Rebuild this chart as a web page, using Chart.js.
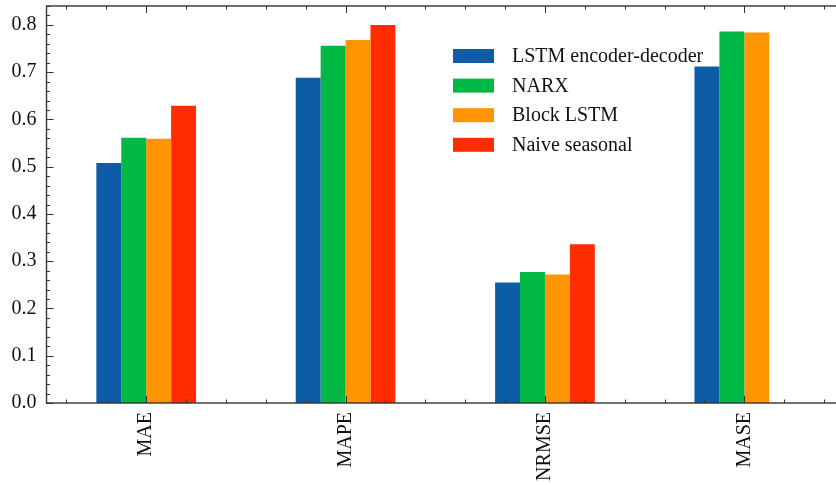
<!DOCTYPE html>
<html>
<head>
<meta charset="utf-8">
<script src="https://cdn.jsdelivr.net/npm/chart.js@4.4.0/dist/chart.umd.min.js"></script>
<style>
  html, body { margin: 0; padding: 0; overflow: hidden; background: #fff; }
</style>
</head>
<body>
<canvas id="myChart" width="850" height="485"></canvas>
<script>
// categories and series
const metrics = ["MAE", "MAPE", "NRMSE", "MASE"];
const seriesNames = ["LSTM encoder-decoder", "NARX", "Block LSTM", "Naive seasonal"];
const lstmEncDec = [0.508, 0.688, 0.255, 0.712];
const narx = [0.561, 0.756, 0.277, 0.786];
const blockLstm = [0.559, 0.768, 0.272, 0.784];
const naiveSeasonal = [0.629, 0.800, 0.336, null];
const yTicks = [0.0, 0.1, 0.2, 0.3, 0.4, 0.5, 0.6, 0.7, 0.8];
const yMax = 0.84;

const colors = ["#0C5DA5", "#00B945", "#FF9500", "#FF2C00"];
const serif = "'Liberation Serif', 'DejaVu Serif', serif";

// matplotlib-like frame with inward major/minor ticks on all four sides
const framePlugin = {
  id: "frame",
  afterDraw(chart) {
    const { ctx, chartArea: a, scales: { x, y } } = chart;
    ctx.save();
    ctx.strokeStyle = "#333";
    ctx.lineWidth = 1;
    ctx.beginPath();
    // y ticks every 0.02, major every 0.1
    for (let k = 0; k * 0.02 <= yMax + 1e-9; k++) {
      const py = Math.round(y.getPixelForValue(k * 0.02)) + 0.5;
      const len = k % 5 === 0 ? 7 : 3.5;
      ctx.moveTo(a.left, py); ctx.lineTo(a.left + len, py);
      ctx.moveTo(a.right, py); ctx.lineTo(a.right - len, py);
    }
    // x ticks every 0.2 category, major at each category
    for (let k = -2; k <= 17; k++) {
      const px = Math.round(x.getPixelForValue(k * 0.2)) + 0.5;
      const len = k % 5 === 0 ? 7 : 3.5;
      ctx.moveTo(px, a.bottom); ctx.lineTo(px, a.bottom - len);
      ctx.moveTo(px, a.top); ctx.lineTo(px, a.top + len);
    }
    ctx.stroke();
    ctx.lineWidth = 1.4;
    ctx.strokeRect(a.left, a.top, a.right - a.left, a.bottom - a.top);
    ctx.restore();
  }
};

// legend drawn inside the axes, like the reference
const legendPlugin = {
  id: "innerLegend",
  afterDatasetsDraw(chart) {
    const ctx = chart.ctx;
    ctx.save();
    ctx.font = "20px " + serif;
    ctx.textBaseline = "middle";
    chart.data.datasets.forEach((ds, i) => {
      const cy = 56 + i * 29.6;
      ctx.fillStyle = ds.backgroundColor;
      ctx.fillRect(453, cy - 7, 41, 14);
      ctx.fillStyle = "#111";
      ctx.fillText(ds.label, 512, cy + 1);
    });
    ctx.restore();
  }
};

const ctx = document.getElementById("myChart").getContext("2d");
const chart = new Chart(ctx, {
  type: "bar",
  data: {
    labels: metrics,
    datasets: [lstmEncDec, narx, blockLstm, naiveSeasonal].map((vals, i) => ({
      label: seriesNames[i],
      data: vals,
      backgroundColor: colors[i],
      borderWidth: 0,
      categoryPercentage: 0.5,
      barPercentage: 1.0
    }))
  },
  options: {
    responsive: false,
    animation: false,
    devicePixelRatio: 1,
    layout: { padding: { left: 11, top: 6, right: 6, bottom: 4 } },
    plugins: {
      legend: { display: false },
      tooltip: { enabled: false }
    },
    scales: {
      x: {
        offset: true,
        grid: { display: false, drawTicks: false },
        border: { display: false },
        afterFit: (s) => { s.height = 78; s.paddingLeft = 0; s.paddingRight = 0; },
        ticks: {
          font: { family: serif, size: 20 },
          color: "#111",
          minRotation: 90,
          maxRotation: 90,
          padding: 9,
          autoSkip: false
        }
      },
      y: {
        min: 0,
        max: yMax,
        grid: { display: false, drawTicks: false },
        border: { display: false },
        afterBuildTicks: (scale) => { scale.ticks = yTicks.map(v => ({ value: v })); },
        afterFit: (s) => { s.width = 35.5; s.paddingTop = 0; s.paddingBottom = 0; },
        ticks: {
          font: { family: serif, size: 20 },
          color: "#111",
          padding: 10,
          callback: (v) => Number(v).toFixed(1)
        }
      }
    }
  },
  plugins: [framePlugin, legendPlugin]
});
</script>
</body>
</html>
